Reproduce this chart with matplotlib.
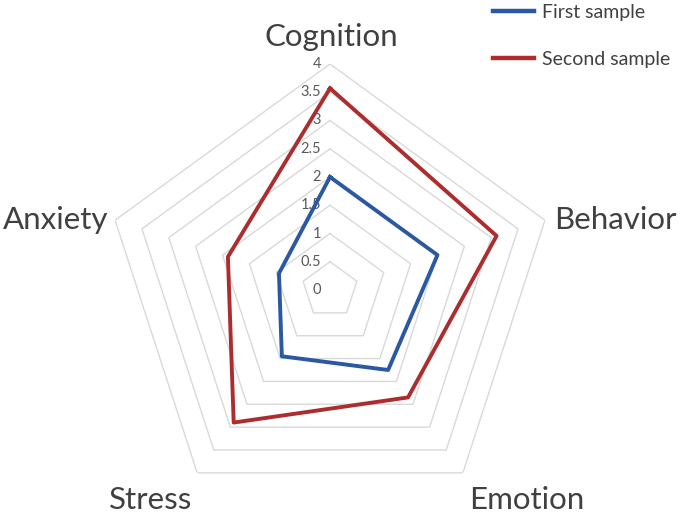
"""Radar chart: first vs second sample across five domains."""

import numpy as np
from matplotlib import pyplot as plt

categories = ["Cognition", "Behavior", "Emotion", "Stress", "Anxiety"]
first_sample = [2.0, 2.0, 1.75, 1.45, 0.95]
second_sample = [3.57, 3.1, 2.35, 2.9, 1.9]
levels = [0.5, 1.0, 1.5, 2.0, 2.5, 3.0, 3.5, 4.0]
level_labels = ["0", "0.5", "1", "1.5", "2", "2.5", "3", "3.5", "4"]

BLUE = "#2b58a2"
RED = "#ad2d2f"
GRID = "#d9d9d9"
TEXT = "#404040"


def closed(values):
    return list(values) + [values[0]]


def main():
    plt.rcParams["font.family"] = ["Lato", "DejaVu Sans"]
    fig = plt.figure(figsize=(6.83, 5.16), dpi=100)
    W, H = 683, 516
    cx, cy, rad = 330, 290, 226
    ax = fig.add_axes(
        [(cx - rad) / W, (H - cy - rad) / H, 2 * rad / W, 2 * rad / H],
        projection="polar",
    )
    ax.set_theta_offset(np.pi / 2)
    ax.set_theta_direction(-1)
    ax.set_ylim(0, 4)
    ax.axis("off")

    theta = np.linspace(0, 2 * np.pi, len(categories), endpoint=False)
    theta_c = closed(theta)

    # pentagon grid
    for lv in levels:
        ax.plot(theta_c, [lv] * len(theta_c), color=GRID, lw=1.0, zorder=1)

    # value labels along the top spoke
    for lv, lab in zip([0.0] + levels, level_labels):
        ax.annotate(
            lab, xy=(0, lv), xytext=(-6.5, 0), textcoords="offset points",
            ha="right", va="center", fontsize=10.5, color="#595959",
            annotation_clip=False, zorder=2,
        )

    ax.plot(theta_c, closed(first_sample), color=BLUE, lw=2.8,
            label="First sample", zorder=3)
    ax.plot(theta_c, closed(second_sample), color=RED, lw=2.8,
            label="Second sample", zorder=3)

    # category labels
    label_pos = {
        "Cognition": (331, 37, "center"),
        "Behavior": (554, 220, "left"),
        "Emotion": (527, 500, "center"),
        "Stress": (151, 500, "center"),
        "Anxiety": (108, 220, "right"),
    }
    for name in categories:
        x, y, ha = label_pos[name]
        fig.text(x / W, 1 - y / H, name, ha=ha, va="center",
                 fontsize=22.5, color=TEXT)

    fig.legend(
        loc="upper left", bbox_to_anchor=(493 / W, 1 - 4 / H),
        frameon=False, fontsize=14, labelcolor=TEXT,
        handlelength=2.1, handletextpad=0.4, labelspacing=1.55,
        borderpad=0, borderaxespad=0,
    )
    for line in fig.legends[0].get_lines():
        line.set_linewidth(3.2)

    fig.savefig("out.png", dpi=100)


if __name__ == "__main__":
    main()
